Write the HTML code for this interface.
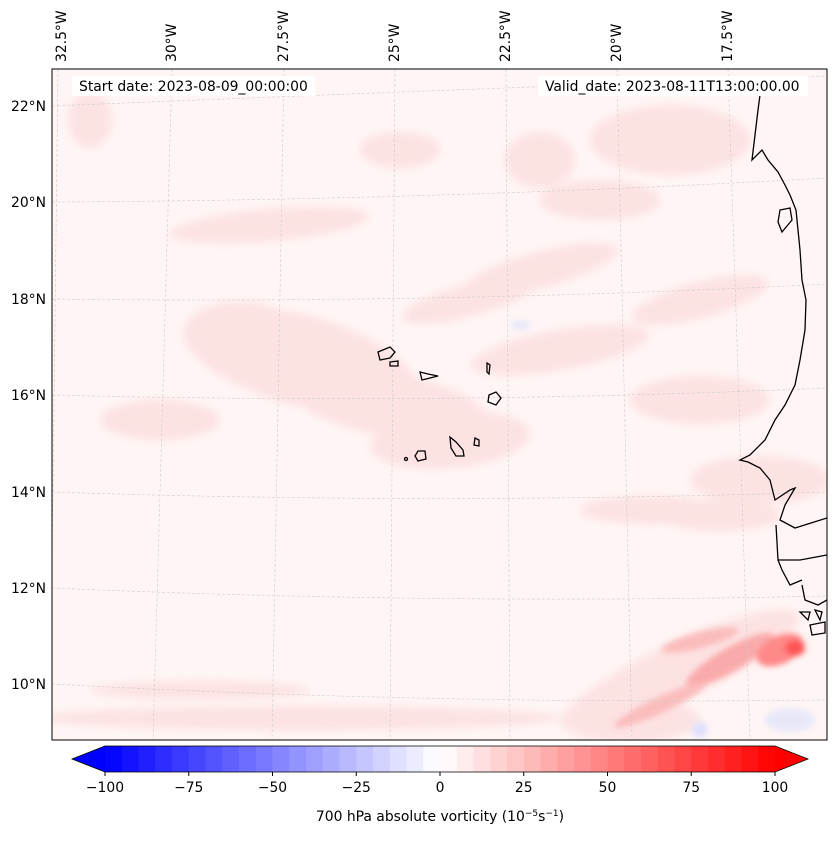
<!DOCTYPE html>
<html><head><meta charset="utf-8"><style>
body{margin:0;background:#fff;font-family:"Liberation Sans","DejaVu Sans",sans-serif;}
svg text{font-family:"DejaVu Sans","Liberation Sans",sans-serif;font-size:13.9px;fill:#000;}
</style></head><body>
<svg id="chart" width="837" height="839" viewBox="0 0 837 839" xmlns="http://www.w3.org/2000/svg">
<defs>
<filter id="blur" x="-30%" y="-30%" width="160%" height="160%"><feGaussianBlur stdDeviation="4"/></filter>
<filter id="blur2" x="-30%" y="-30%" width="160%" height="160%"><feGaussianBlur stdDeviation="3"/></filter>
<clipPath id="mapclip"><rect x="52" y="69" width="775" height="671"/></clipPath>
</defs>
<g clip-path="url(#mapclip)">
<rect x="52" y="69" width="775" height="671" fill="#fff5f5"/>
<g filter="url(#blur)" fill="#fde2e2">
<ellipse cx="300" cy="360" rx="120" ry="45" transform="rotate(15 300 360)"/>
<ellipse cx="390" cy="405" rx="100" ry="32" transform="rotate(10 390 405)"/>
<ellipse cx="240" cy="330" rx="55" ry="28"/>
<ellipse cx="450" cy="440" rx="80" ry="28" transform="rotate(-5 450 440)"/>
<ellipse cx="560" cy="350" rx="90" ry="20" transform="rotate(-10 560 350)"/>
<ellipse cx="540" cy="270" rx="80" ry="18" transform="rotate(-15 540 270)"/>
<ellipse cx="470" cy="300" rx="70" ry="16" transform="rotate(-15 470 300)"/>
<ellipse cx="670" cy="140" rx="80" ry="35"/>
<ellipse cx="540" cy="160" rx="35" ry="28"/>
<ellipse cx="400" cy="150" rx="40" ry="18"/>
<ellipse cx="270" cy="225" rx="100" ry="16" transform="rotate(-5 270 225)"/>
<ellipse cx="90" cy="120" rx="22" ry="28"/>
<ellipse cx="700" cy="300" rx="70" ry="18" transform="rotate(-15 700 300)"/>
<ellipse cx="700" cy="400" rx="70" ry="24"/>
<ellipse cx="760" cy="480" rx="70" ry="24"/>
<ellipse cx="650" cy="510" rx="70" ry="14"/>
<ellipse cx="720" cy="515" rx="60" ry="16"/>
<ellipse cx="300" cy="718" rx="260" ry="12"/>
<ellipse cx="200" cy="690" rx="110" ry="9"/>
<ellipse cx="680" cy="670" rx="130" ry="28" transform="rotate(-25 680 670)"/>
<ellipse cx="630" cy="720" rx="70" ry="22"/>
<ellipse cx="600" cy="200" rx="60" ry="20"/>
<ellipse cx="160" cy="420" rx="60" ry="20"/>
</g>
<g filter="url(#blur2)">
<ellipse cx="730" cy="660" rx="50" ry="12" transform="rotate(-30 730 660)" fill="#f9aaaa"/>
<ellipse cx="780" cy="650" rx="25" ry="14" transform="rotate(-25 780 650)" fill="#f88"/>
<ellipse cx="795" cy="648" rx="10" ry="8" fill="#f55"/>
<ellipse cx="700" cy="640" rx="40" ry="8" transform="rotate(-15 700 640)" fill="#fbbcbc"/>
<ellipse cx="660" cy="705" rx="50" ry="8" transform="rotate(-25 660 705)" fill="#fbbcbc"/>
<ellipse cx="700" cy="730" rx="8" ry="8" fill="#dfe0fb"/>
<ellipse cx="790" cy="720" rx="25" ry="12" fill="#e8e8fb"/>
<ellipse cx="520" cy="325" rx="10" ry="5" fill="#e8e8fb"/>
</g>
<g stroke="#ccc" stroke-width="0.6" stroke-dasharray="3,2" fill="none">
<path d="M58,69 L50,740"/><path d="M172,69 L153,740"/><path d="M284,69 L272,740"/><path d="M395,69 L390,740"/><path d="M506,69 L510,740"/><path d="M617,69 L632,740"/><path d="M728,69 L750,740"/>
<path d="M52,106 Q440,90 827,76"/><path d="M52,202 Q440,200 827,178"/><path d="M52,299 Q440,304 827,284"/><path d="M52,395 Q440,405 827,388"/><path d="M52,492 Q440,505 827,492"/><path d="M52,588 Q440,605 827,596"/><path d="M52,684 Q440,705 827,700"/>
</g>
<g stroke="#000" stroke-width="1.3" fill="none">
<path d="M762,80 L758,110 L752,160 L762,150 L768,160 L778,172 L785,185 L790,195 L796,210 L798,230 L800,250 L802,280 L806,300 L805,330 L800,360 L795,385 L785,405 L775,420 L765,440 L750,455 L740,460 L748,462 L760,468 L770,480 L775,500 L790,490 L795,488 L785,505 L780,520 L795,528 L827,518"/>
<path d="M780,210 L790,208 L792,220 L782,232 L778,222 Z"/>
<path d="M776,525 L778,560 L800,560 L827,555"/>
<path d="M778,560 L782,570 L790,585 L802,580"/>
<path d="M802,585 L805,600 L818,605 L827,600"/>
<path d="M800,612 L810,612 L808,620 Z"/><path d="M815,610 L822,612 L820,620 Z"/>
<path d="M810,625 L825,622 L825,633 L812,635 Z"/>
<path d="M378,352 L390,347 L395,352 L390,358 L380,360 Z"/>
<path d="M390,362 L398,361 L398,366 L390,366 Z"/>
<path d="M420,372 L428,374 L438,376 L430,378 L422,380 Z"/>
<path d="M487,363 L490,365 L489,374 L487,372 Z"/>
<path d="M489,395 L496,392 L501,398 L496,405 L488,402 Z"/>
<path d="M450,437 L456,442 L463,450 L464,456 L456,456 L451,448 Z"/>
<path d="M475,438 L479,440 L479,446 L474,445 Z"/>
<path d="M418,451 L425,451 L426,459 L418,461 L415,456 Z"/>
<circle cx="406" cy="459" r="1.5"/>
</g>
</g>
<rect x="52" y="69" width="775" height="671" fill="none" stroke="#000" stroke-width="1"/>
<rect x="72" y="76" width="243" height="20" fill="#fff"/>
<text x="79" y="91">Start date: 2023-08-09_00:00:00</text>
<rect x="538" y="76" width="270" height="20" fill="#fff"/>
<text x="545" y="91">Valid_date: 2023-08-11T13:00:00.00</text>
<g id="lonlabels"></g>
<g id="latlabels"></g>
<g id="colorbar"></g>
<text x="440" y="821" text-anchor="middle">700 hPa absolute vorticity (10<tspan dy="-5" font-size="9">−5</tspan><tspan dy="5">s</tspan><tspan dy="-5" font-size="9">−1</tspan><tspan dy="5">)</tspan></text>
</svg>
<script>
const lonLabels = ["32.5°W","30°W","27.5°W","25°W","22.5°W","20°W","17.5°W"];
const lonX = [62,172,284,395,506,617,728];
const latLabels = ["22°N","20°N","18°N","16°N","14°N","12°N","10°N"];
const latY = [106,202,299,395,492,588,684];
const levels = [];
for (let v=-100; v<=100; v+=5) levels.push(v);
const cbTicks = [-100,-75,-50,-25,0,25,50,75,100];
const NS='http://www.w3.org/2000/svg';
function mk(tag, attrs, parent){const e=document.createElementNS(NS,tag);for(const k in attrs)e.setAttribute(k,attrs[k]);parent.appendChild(e);return e;}
const lg=document.getElementById('lonlabels');
lonLabels.forEach((s,i)=>{
  const t=mk('text',{x:lonX[i]+4,y:62,transform:'rotate(-90 '+(lonX[i]+4)+' 62)'},lg);
  
  
  t.textContent=s;
});
const ag=document.getElementById('latlabels');
latLabels.forEach((s,i)=>{
  const t=mk('text',{x:46,y:latY[i]+5,'text-anchor':'end'},ag);
  
  
  t.textContent=s;
});
const cb=document.getElementById('colorbar');
const x0=105,x1=775,y0=746,y1=772;
const sx=v=>x0+(v+100)/200*(x1-x0);
function col(m){m=Math.max(-100,Math.min(100,m));let r,g,b;if(m<0){const s=1+m/100;r=g=Math.round(255*s);b=255;}else{const s=1-m/100;r=255;g=b=Math.round(255*s);}return `rgb(${r},${g},${b})`;}
for(let i=0;i<levels.length-1;i++){
  const a=levels[i],b=levels[i+1];
  const r=mk('rect',{x:sx(a),y:y0,width:sx(b)-sx(a)+0.5,height:y1-y0,fill:col((a+b)/2)},cb);
  
  
}
const lt=mk('polygon',{points:`${x0},${y0} 72,${(y0+y1)/2} ${x0},${y1}`,fill:col(-100)},cb);


const rt=mk('polygon',{points:`${x1},${y0} 808,${(y0+y1)/2} ${x1},${y1}`,fill:col(100)},cb);


const ol=mk('polygon',{points:`${x0},${y0} ${x1},${y0} 808,${(y0+y1)/2} ${x1},${y1} ${x0},${y1} 72,${(y0+y1)/2}`,fill:'none',stroke:'#000','stroke-width':0.8},cb);


cbTicks.forEach(v=>{
  const l=mk('line',{x1:sx(v),x2:sx(v),y1:y1,y2:y1+4,stroke:'#000'},cb);
  
  
  const t=mk('text',{x:sx(v),y:y1+20,'text-anchor':'middle'},cb);
  
  
  t.textContent=(v<0?'−':'')+Math.abs(v);
});
</script>
</body></html>
